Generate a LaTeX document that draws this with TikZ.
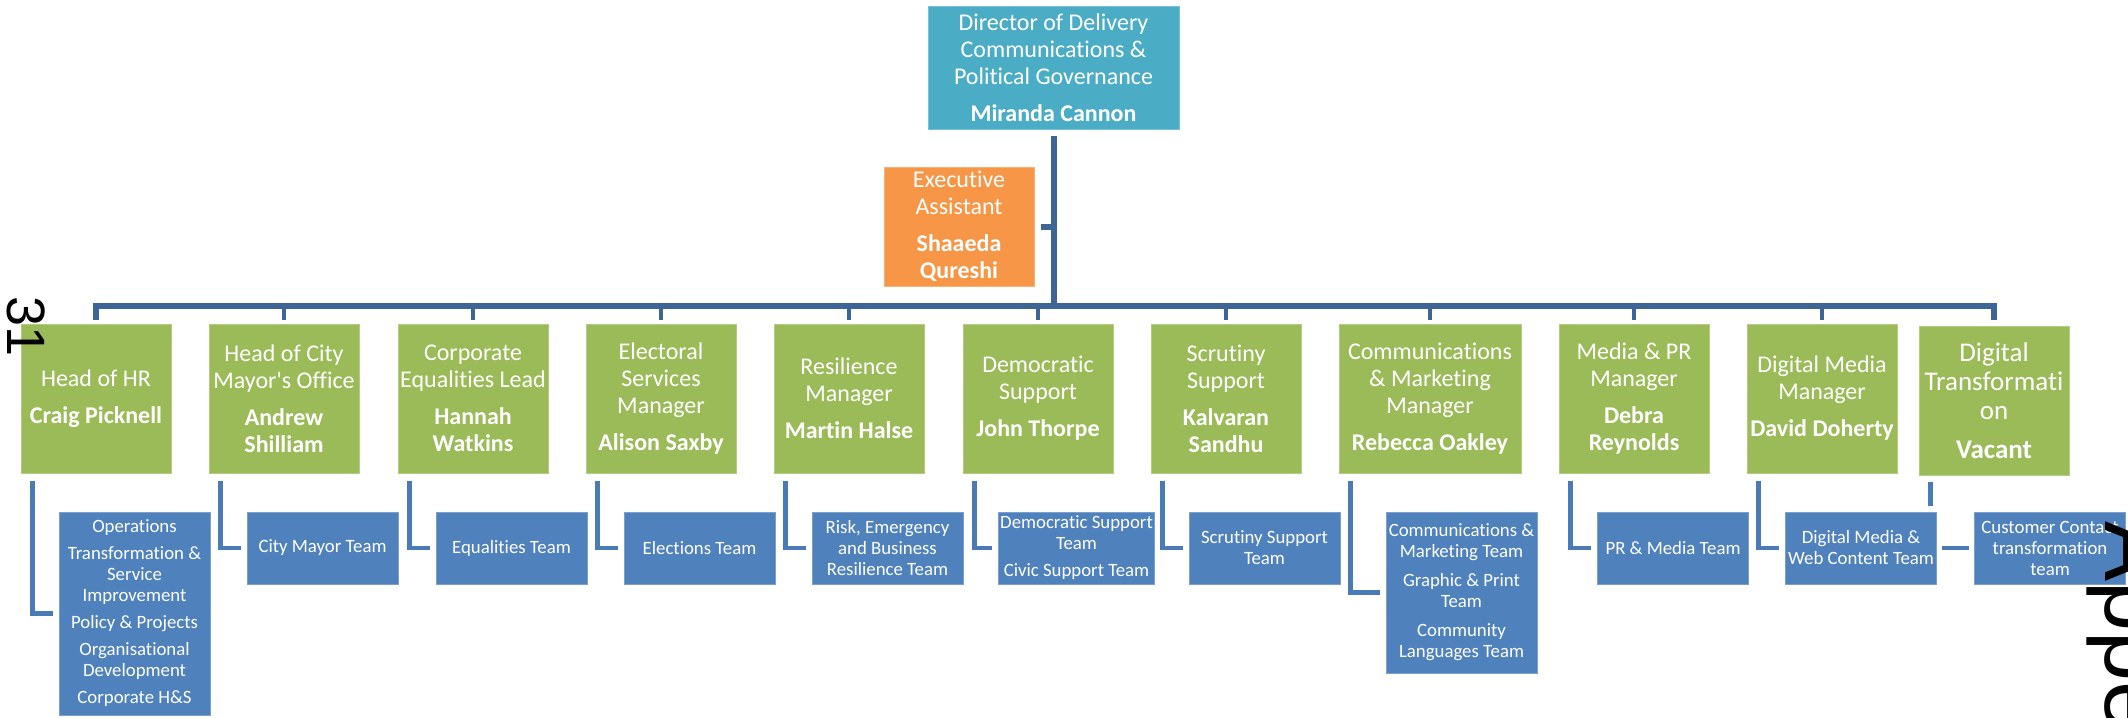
\documentclass[tikz,border=0pt]{standalone}
\usepackage{fontspec}
\setmainfont{Carlito}[Ligatures=NoCommon]
\newfontfamily\marcafont{Liberation Sans}
\usetikzlibrary{positioning,calc}
\definecolor{dirblue}{HTML}{4BACC6}
\definecolor{eaorange}{HTML}{F79646}
\definecolor{leadgreen}{HTML}{9BBB59}
\definecolor{teamblue}{HTML}{4F81BD}
\definecolor{busblue}{HTML}{3D6696}
\definecolor{linkblue}{HTML}{4A7BB7}

\begin{document}
\begin{tikzpicture}[x=0.5pt,y=-0.5pt,
		caja/.style={fill=#1,draw=#1!75!white,line width=0.5pt,text=white,align=center,inner sep=1pt,font=\fontsize{12}{13.5}\selectfont},
		lead/.style={caja=leadgreen,minimum width=75pt,minimum height=74.5pt},
		team/.style={caja=teamblue,minimum width=75.5pt,minimum height=36pt,font=\fontsize{9.4}{10.5}\selectfont},
		bus/.style={busblue,line width=3pt},
		drop/.style={busblue,line width=2pt},
		enlace/.style={linkblue,line width=2.2pt}]
	\useasboundingbox (0,0) rectangle (2128,717);
	\clip (0,0) rectangle (2128,717);
	% director y asistente
	\node[caja=dirblue,minimum width=125.5pt,minimum height=61pt] (dir) at (1053.5,68)
	{Director of Delivery\\Communications \&\\Political Governance\\[5pt]\textbf{Miranda Cannon}};
	\node[caja=eaorange,minimum width=75pt,minimum height=59.5pt] (ea) at (959,226.5)
	{Executive\\Assistant\\[5pt]\textbf{Shaaeda}\\\textbf{Qureshi}};
	% jefes de area
	\node[lead] (hr) at (96,398.5) {Head of HR\\[5pt]\textbf{Craig Picknell}};
	\node[lead] (mayor) at (284,398.5) {Head of City\\Mayor\textquotesingle s Office\\[5pt]\textbf{Andrew}\\\textbf{Shilliam}};
	\node[lead] (equal) at (473,398.5) {Corporate\\Equalities Lead\\[5pt]\textbf{Hannah}\\\textbf{Watkins}};
	\node[lead] (elect) at (661,398.5) {Electoral\\Services\\Manager\\[5pt]\textbf{Alison Saxby}};
	\node[lead] (resil) at (849,398.5) {Resilience\\Manager\\[5pt]\textbf{Martin Halse}};
	\node[lead] (demo) at (1038,398.5) {Democratic\\Support\\[5pt]\textbf{John Thorpe}};
	\node[lead] (scrut) at (1226,398.5) {Scrutiny\\Support\\[5pt]\textbf{Kalvaran}\\\textbf{Sandhu}};
	\node[lead,minimum width=91pt] (comms) at (1430,398.5) {Communications\\\& Marketing\\Manager\\[5pt]\textbf{Rebecca Oakley}};
	\node[lead] (media) at (1634,398.5) {Media \& PR\\Manager\\[5pt]\textbf{Debra}\\\textbf{Reynolds}};
	\node[lead] (digi) at (1822,398.5) {Digital Media\\Manager\\[5pt]\textbf{David Doherty}};
	\node[lead,font=\fontsize{13.5}{14.5}\selectfont] (trans) at (1994,401) {Digital\\Transformati\\on\\[5pt]\textbf{Vacant}};
	% equipos
	\node[team,minimum height=101.5pt] (hrteam) at (134.5,613.5)
	{Operations\\[3pt]Transformation \&\\Service\\Improvement\\[3pt]Policy \& Projects\\[3pt]Organisational\\Development\\[3pt]Corporate H\&S};
	\node[team] (mayorteam) at (322.5,548) {City Mayor Team};
	\node[team] (equalteam) at (511.5,548) {Equalities Team};
	\node[team] (electteam) at (699.5,548) {Elections Team};
	\node[team] (resilteam) at (887.5,548) {Risk, Emergency\\and Business\\Resilience Team};
	\node[team] (demoteam) at (1076.5,548) {Democratic Support\\Team\\[3pt]Civic Support Team};
	\node[team] (scrutteam) at (1264.5,548) {Scrutiny Support\\Team};
	\node[team,minimum height=80.5pt] (commsteam) at (1461.5,592.5)
	{Communications \&\\Marketing Team\\[4pt]Graphic \& Print\\Team\\[4pt]Community\\Languages Team};
	\node[team] (mediateam) at (1673,548) {PR \& Media Team};
	\node[team] (digiteam) at (1861,548) {Digital Media \&\\Web Content Team};
	\node[team] (ccteam) at (2050,548) {Customer Contact\\transformation\\team};
	% conectores
	\coordinate (barra) at (0,306);
	\draw[bus] ([yshift=-3pt]dir.south) -- (dir.south |- barra);
	\draw[bus] ([xshift=3pt]ea.east) -- (ea.east -| dir.south);
	\draw[bus] ([yshift=2pt]hr.north) -- (hr.north |- barra) -- (trans.north |- barra) -- ([yshift=3pt]trans.north);
	\foreach \j in {mayor,equal,elect,resil,demo,scrut,comms,media,digi}
	\draw[drop] (\j.north |- barra) -- ([yshift=2pt]\j.north);
	\foreach \j/\e in {hr/hrteam,mayor/mayorteam,equal/equalteam,elect/electteam,resil/resilteam,
		demo/demoteam,scrut/scrutteam,comms/commsteam,media/mediateam,digi/digiteam}
	\draw[enlace] ([xshift=6pt,yshift=-3.5pt]\j.south west) |- ([xshift=-3pt]\e.west);
	\coordinate (transfin) at ($(trans.south west)+(12,30)$);
	\draw[enlace] ([xshift=6pt,yshift=-3pt]trans.south west) -- (transfin);
	\draw[enlace] ([xshift=2.5pt]digiteam.east) -- ([xshift=-2.5pt]ccteam.west);
	% marcas de pagina
	\node[rotate=-90,anchor=base west,inner sep=0pt,font=\marcafont\fontsize{27}{27}\selectfont] (pagina) at (7,296) {31};
	\node[rotate=-90,anchor=base west,inner sep=0pt,font=\marcafont\fontsize{45}{45}\selectfont] (anexo) at (2105,521) {Appe};
\end{tikzpicture}
\end{document}
